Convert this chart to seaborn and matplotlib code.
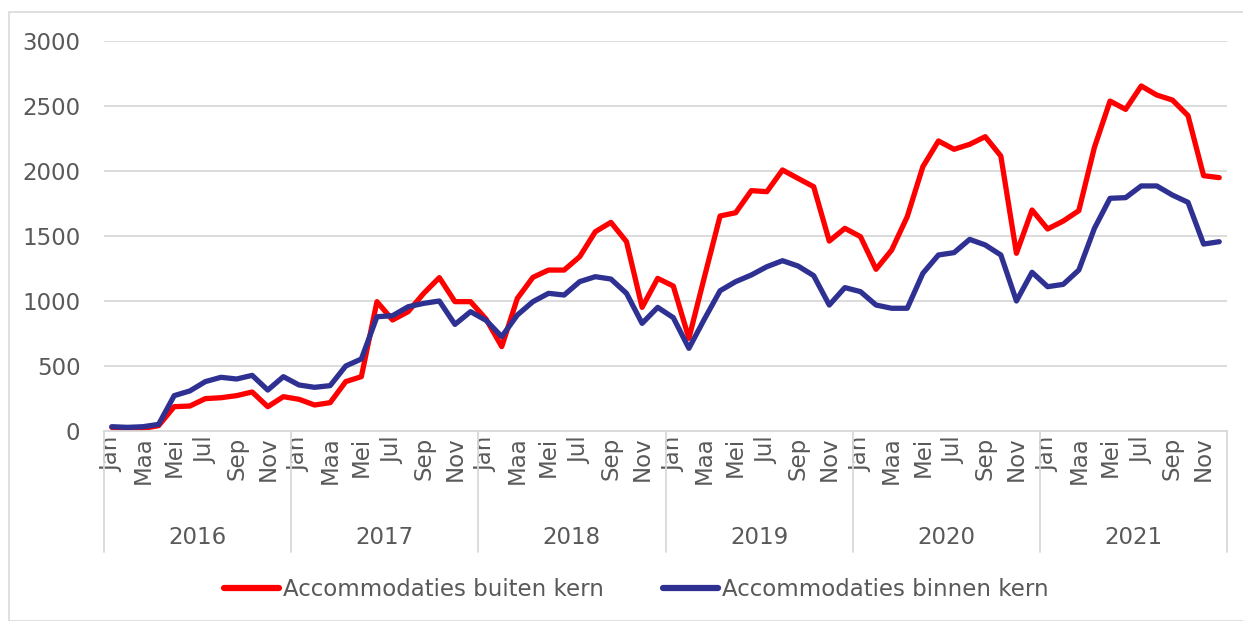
import numpy as np
import pandas as pd
import matplotlib
matplotlib.use("Agg")
import matplotlib.pyplot as plt
import matplotlib.transforms as mtransforms
from matplotlib.patches import Rectangle
from matplotlib.lines import Line2D
import seaborn as sns

# data
jaren = ['2016', '2017', '2018', '2019', '2020', '2021']
maanden = ['Jan', 'Feb', 'Maa', 'Apr', 'Mei', 'Jun', 'Jul', 'Aug', 'Sep', 'Okt', 'Nov', 'Dec']

buiten_kern = [28, 15, 20, 41, 187, 192, 249, 256, 272, 300, 187, 264,
               244, 200, 218, 380, 418, 995, 854, 918, 1059, 1180, 995, 995,
               860, 649, 1020, 1182, 1238, 1238, 1341, 1533, 1605, 1456, 951, 1174,
               1115, 713, 1187, 1654, 1679, 1849, 1841, 2008, 1943, 1879, 1461, 1559,
               1495, 1244, 1392, 1649, 2033, 2231, 2167, 2205, 2264, 2115, 1367, 1700,
               1554, 1615, 1695, 2182, 2538, 2474, 2654, 2584, 2546, 2426, 1964, 1949]

binnen_kern = [33, 28, 33, 51, 272, 308, 380, 413, 400, 428, 315, 418,
               354, 336, 349, 500, 554, 879, 887, 956, 982, 1000, 820, 918,
               851, 726, 892, 995, 1059, 1046, 1149, 1187, 1169, 1059, 828, 951,
               872, 636, 862, 1079, 1149, 1200, 1264, 1310, 1269, 1195, 969, 1103,
               1072, 969, 944, 944, 1213, 1354, 1372, 1474, 1431, 1354, 1000, 1221,
               1110, 1128, 1238, 1559, 1790, 1795, 1885, 1885, 1815, 1759, 1438, 1456]

reeks_namen = ['Accommodaties buiten kern', 'Accommodaties binnen kern']
kleuren = ['#FF0000', '#2E3192']

n = len(buiten_kern)
df = pd.DataFrame({
    'idx': list(range(n)) * 2,
    'waarde': buiten_kern + binnen_kern,
    'reeks': [reeks_namen[0]] * n + [reeks_namen[1]] * n,
})

sns.set_style("white")
plt.rcParams['font.family'] = ['DejaVu Sans']
tekst_kleur = '#595959'
grid_kleur = '#D9D9D9'
fs = 16.5

fig = plt.figure(figsize=(12.43, 6.21), dpi=100)
W, H = 1243, 621
ax = fig.add_axes([104 / W, (H - 431) / H, 1123 / W, 390 / H])

# rand rond de grafiek
fig.patches.append(Rectangle((9 / W, 0), 1.2, (H - 12) / H, transform=fig.transFigure,
                             fill=False, edgecolor=grid_kleur, linewidth=1.2, zorder=0))

sns.lineplot(data=df, x='idx', y='waarde', hue='reeks', palette=kleuren, ax=ax,
             linewidth=3.8, legend=False, sort=False)
for ln in ax.lines:
    ln.set_solid_joinstyle('round')
    ln.set_solid_capstyle('round')

ax.set_xlim(-0.5, n - 0.5)
ax.set_ylim(0, 3000)
ax.set_yticks(range(0, 3001, 500))
ax.yaxis.grid(True, color=grid_kleur, linewidth=1.3)
ax.set_axisbelow(True)
for s in ['top', 'right', 'left']:
    ax.spines[s].set_visible(False)
ax.spines['bottom'].set_color(grid_kleur)
ax.spines['bottom'].set_linewidth(1.3)
ax.tick_params(axis='y', length=0, pad=17, labelsize=fs, labelcolor=tekst_kleur)
ax.set_xlabel('')
ax.set_ylabel('')

# maanden (om de twee) en jaren
xt = [i for i in range(n) if i % 2 == 0]
ax.set_xticks(xt)
ax.set_xticklabels([maanden[i % 12] for i in xt], rotation=90, va='top', ha='center')
ax.tick_params(axis='x', length=0, pad=4, labelsize=fs, labelcolor=tekst_kleur)

trans = mtransforms.blended_transform_factory(ax.transData, ax.transAxes)
for j, jaar in enumerate(jaren):
    ax.text(j * 12 + 5.5, -0.272, jaar, transform=trans, ha='center', va='center',
            fontsize=fs, color=tekst_kleur)
for j in range(len(jaren) + 1):
    ax.plot([j * 12 - 0.5, j * 12 - 0.5], [0, -0.31], transform=trans, color=grid_kleur,
            linewidth=1.3, clip_on=False)

handles = [Line2D([0], [0], color=c, linewidth=4.5, solid_capstyle='round') for c in kleuren]
fig.legend(handles, reeks_namen, loc='center', bbox_to_anchor=(0.512, 1 - 590 / H), ncol=2,
           frameon=False, fontsize=fs, labelcolor=tekst_kleur, handlelength=2.4,
           handletextpad=0.15, columnspacing=2.6)

fig.savefig('out.png', dpi=100)
